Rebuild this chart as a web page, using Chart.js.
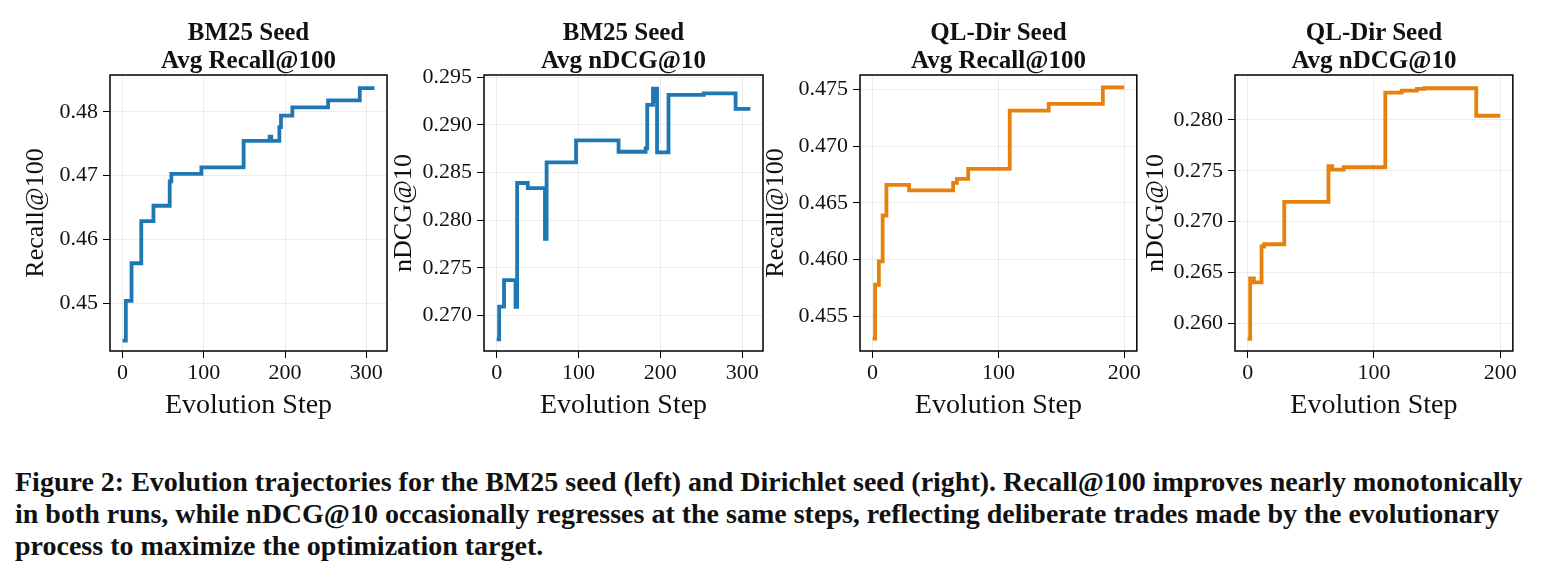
<!DOCTYPE html>
<html>
<head>
<meta charset="utf-8">
<script src="https://cdn.jsdelivr.net/npm/chart.js@4.4.1/dist/chart.umd.min.js"></script>
<style>
    body { margin: 0; background: #fff; width: 1545px; height: 578px; position: relative; overflow: hidden; font-family: 'Liberation Serif', serif; }
    canvas { position: absolute; top: 0; }
    .ptitle { position: absolute; top: 18px; width: 300px; text-align: center; font-weight: bold; font-size: 25px; line-height: 28px; color: #111; }
    #caption { position: absolute; left: 15px; top: 466px; font-weight: bold; font-size: 28px; line-height: 32px; color: #111; white-space: nowrap; }
</style>
</head>
<body>
<canvas id="c1"></canvas>
<canvas id="c2"></canvas>
<canvas id="c3"></canvas>
<canvas id="c4"></canvas>
<div id="titles"></div>
<div id="caption">Figure 2: Evolution trajectories for the BM25 seed (left) and Dirichlet seed (right). Recall@100 improves nearly monotonically<br>in both runs, while nDCG@10 occasionally regresses at the same steps, reflecting deliberate trades made by the evolutionary<br>process to maximize the optimization target.</div>
<script>
// values (step where the value changes -> new value)
const bm25RecallSteps = [0, 4, 11, 23, 38, 58, 60, 97, 149, 181, 183, 193, 195, 209, 253, 292, 310];
const bm25RecallValues = [0.4442, 0.4504, 0.4563, 0.4629, 0.4653, 0.4691, 0.4703, 0.4713, 0.47545, 0.4761, 0.47545, 0.4776, 0.4794, 0.4807, 0.4818, 0.4837, 0.4837];

const bm25NdcgSteps = [0, 3, 9, 23, 25, 38, 59, 61, 97, 149, 182, 184, 191, 193, 194, 196, 210, 253, 292, 310];
const bm25NdcgValues = [0.26749, 0.27091, 0.2737, 0.2709, 0.2839, 0.28337, 0.27803, 0.28606, 0.28837, 0.28718, 0.28753, 0.2921, 0.2938, 0.2925, 0.2938, 0.28711, 0.29315, 0.29332, 0.29168, 0.29168];

const dirRecallSteps = [0, 2, 5, 8, 11, 29, 64, 67, 76, 109, 140, 183, 200];
const dirRecallValues = [0.4530, 0.45776, 0.45982, 0.46388, 0.46659, 0.46609, 0.46676, 0.46712, 0.4680, 0.47315, 0.47374, 0.4752, 0.4752];

const dirNdcgSteps = [0, 2, 5, 11, 13, 29, 64, 67, 76, 109, 122, 134, 140, 181, 200];
const dirNdcgValues = [0.2585, 0.26443, 0.26404, 0.26756, 0.26778, 0.27195, 0.27544, 0.27511, 0.27534, 0.28267, 0.28287, 0.28303, 0.2831, 0.2804, 0.2804];

const xTicksBm25 = [0, 100, 200, 300];
const xTicksDir = [0, 100, 200];
const yTicksBm25Recall = [0.45, 0.46, 0.47, 0.48];
const yTicksBm25Ndcg = [0.270, 0.275, 0.280, 0.285, 0.290, 0.295];
const yTicksDirRecall = [0.455, 0.460, 0.465, 0.470, 0.475];
const yTicksDirNdcg = [0.260, 0.265, 0.270, 0.275, 0.280];

const BLUE = '#1f77b4';
const ORANGE = '#e8800c';
const FONT = 'Liberation Serif';

const boxPlugin = {
    id: 'box',
    afterDraw(chart) {
        const a = chart.chartArea;
        const ctx = chart.ctx;
        ctx.save();
        ctx.strokeStyle = '#000';
        ctx.lineWidth = 1.5;
        ctx.strokeRect(a.left, a.top, a.right - a.left, a.bottom - a.top);
        ctx.restore();
    }
};

function makePanel(id, p) {
    const canvas = document.getElementById(id);
    const left = p.yTitleX - 20;
    const width = p.right + 6 - left;
    canvas.width = width;
    canvas.height = 430;
    canvas.style.left = left + 'px';

    const t = document.createElement('div');
    t.className = 'ptitle';
    t.style.left = ((p.chartLeft + p.right) / 2 - 150) + 'px';
    t.innerHTML = p.title.join('<br>');
    document.getElementById('titles').appendChild(t);

    new Chart(canvas, {
        type: 'line',
        data: {
            datasets: [{
                data: p.steps.map((s, i) => ({ x: s, y: p.values[i] })),
                borderColor: p.color,
                borderWidth: 3.8,
                pointRadius: 0,
                stepped: 'before',
                fill: false
            }]
        },
        options: {
            responsive: false,
            animation: false,
            devicePixelRatio: 1,
            layout: { padding: { top: 75, right: 6, bottom: 0, left: 0 } },
            plugins: { legend: { display: false }, tooltip: { enabled: false } },
            scales: {
                x: {
                    type: 'linear',
                    min: p.xMin, max: p.xMax,
                    afterBuildTicks: s => { s.ticks = p.xTicks.map(v => ({ value: v })); },
                    afterFit: s => { s.height = 79; },
                    ticks: { color: '#111', font: { family: FONT, size: 22 }, padding: 2, maxRotation: 0, callback: v => String(v) },
                    grid: { color: 'rgba(0,0,0,0.07)', lineWidth: 1, tickColor: '#000', tickLength: 7, tickWidth: 1 },
                    border: { display: false },
                    title: { display: true, text: 'Evolution Step', color: '#111', font: { family: FONT, size: 28 }, padding: { top: 0, bottom: 8 } }
                },
                y: {
                    min: p.yMin, max: p.yMax,
                    afterBuildTicks: s => { s.ticks = p.yTicks.map(v => ({ value: v })); },
                    afterFit: s => { s.width = p.chartLeft - left; },
                    ticks: { color: '#111', font: { family: FONT, size: 22 }, padding: 5, callback: v => v.toFixed(p.decimals) },
                    grid: { color: 'rgba(0,0,0,0.07)', lineWidth: 1, tickColor: '#000', tickLength: 7, tickWidth: 1 },
                    border: { display: false },
                    title: { display: true, text: p.yLabel, color: '#111', font: { family: FONT, size: 26 }, padding: { top: 4, bottom: 0 } }
                }
            }
        },
        plugins: [boxPlugin]
    });
}

makePanel('c1', {
    title: ['BM25 Seed', 'Avg Recall@100'], yLabel: 'Recall@100',
    steps: bm25RecallSteps, values: bm25RecallValues, color: BLUE,
    yTitleX: 37, chartLeft: 110, right: 387,
    xMin: -15.5, xMax: 325.5, xTicks: xTicksBm25,
    yMin: 0.44257, yMax: 0.48576, yTicks: yTicksBm25Recall, decimals: 2
});
makePanel('c2', {
    title: ['BM25 Seed', 'Avg nDCG@10'], yLabel: 'nDCG@10',
    steps: bm25NdcgSteps, values: bm25NdcgValues, color: BLUE,
    yTitleX: 405, chartLeft: 484, right: 763,
    xMin: -15.5, xMax: 325.5, xTicks: xTicksBm25,
    yMin: 0.26626, yMax: 0.29524, yTicks: yTicksBm25Ndcg, decimals: 3
});
makePanel('c3', {
    title: ['QL-Dir Seed', 'Avg Recall@100'], yLabel: 'Recall@100',
    steps: dirRecallSteps, values: dirRecallValues, color: ORANGE,
    yTitleX: 777, chartLeft: 860, right: 1137,
    xMin: -10, xMax: 210, xTicks: xTicksDir,
    yMin: 0.45191, yMax: 0.47629, yTicks: yTicksDirRecall, decimals: 3
});
makePanel('c4', {
    title: ['QL-Dir Seed', 'Avg nDCG@10'], yLabel: 'nDCG@10',
    steps: dirNdcgSteps, values: dirNdcgValues, color: ORANGE,
    yTitleX: 1157, chartLeft: 1235, right: 1513,
    xMin: -10, xMax: 210, xTicks: xTicksDir,
    yMin: 0.2573, yMax: 0.2844, yTicks: yTicksDirNdcg, decimals: 3
});
</script>
</body>
</html>
